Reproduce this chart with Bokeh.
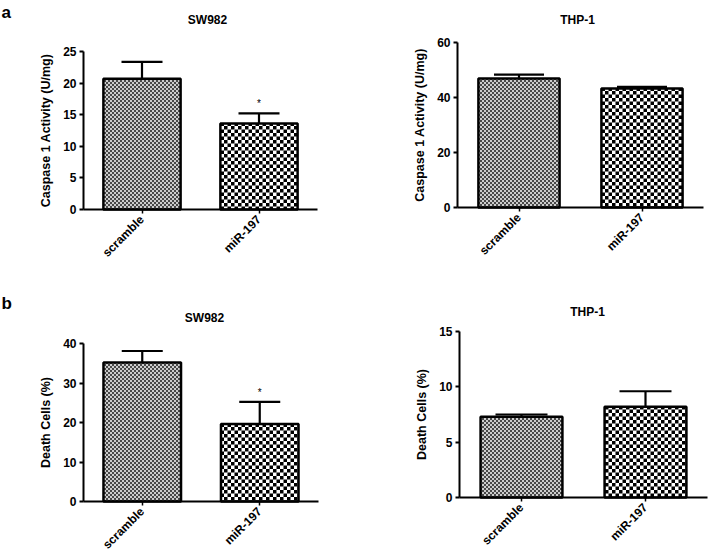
import json
import math
from bokeh.plotting import figure
from bokeh.models import (Range1d, FixedTicker, Whisker, TeeHead,
                          ColumnDataSource, CanvasTexture, CustomJSTickFormatter)
from bokeh.layouts import row, column
from bokeh.core.properties import value
from bokeh.embed import file_html
from bokeh.resources import INLINE

# ---------------- data ----------------
groups = ["scramble", "miR-197"]

caspase_sw982_mean = [20.7, 13.6]
caspase_sw982_err = [2.65, 1.6]
caspase_sw982_sig = ["", "*"]
caspase_sw982_ticks = [0, 5, 10, 15, 20, 25]

caspase_thp1_mean = [46.9, 43.3]
caspase_thp1_err = [1.4, 0.6]
caspase_thp1_sig = ["", ""]
caspase_thp1_ticks = [0, 20, 40, 60]

death_sw982_mean = [35.2, 19.6]
death_sw982_err = [2.9, 5.6]
death_sw982_sig = ["", "*"]
death_sw982_ticks = [0, 10, 20, 30, 40]

death_thp1_mean = [7.3, 8.2]
death_thp1_err = [0.2, 1.4]
death_thp1_sig = ["", ""]
death_thp1_ticks = [0, 5, 10, 15]

# ---------------- styles ----------------
FONT = "Liberation Sans"
FINE_CHECK = ("const c = ctx.canvas; c.width = 4; c.height = 4;"
              "ctx.fillStyle = '#cccccc'; ctx.fillRect(0, 0, 4, 4);"
              "ctx.fillStyle = '#484848'; ctx.fillRect(0, 0, 2, 2); ctx.fillRect(2, 2, 2, 2);")
COARSE_CHECK = ("const c = ctx.canvas; c.width = 7; c.height = 7;"
                "ctx.fillStyle = '#ffffff'; ctx.fillRect(0, 0, 7, 7);"
                "ctx.fillStyle = '#000000'; ctx.fillRect(0, 0, 3.5, 3.5); ctx.fillRect(3.5, 3.5, 3.5, 3.5);")
bar_textures = [FINE_CHECK, COARSE_CHECK]
bar_fill = ["#8a8a8a", "#808080"]
bar_scale = [4, 7]
BAR_WIDTH = 0.66


def panel(title, ylabel, means, errs, sig, ticks, geom, cap, title_px,
          letter=None, letter_px=(0, 0)):
    # geom: canvas width/height, pixel x of y-axis, px per category,
    #       pixel y of zero line, pixel y of top tick
    w, h, x0, unit, y0, ytop = geom
    ymax = ticks[-1]
    pxu = (y0 - ytop) / ymax

    def dx(px):
        return (px - x0) / unit

    def dy(py):
        return (y0 - py) / pxu

    p = figure(x_range=Range1d(dx(0), dx(w)), y_range=Range1d(dy(h), dy(0)),
               frame_width=w, frame_height=h, min_border=0,
               output_backend="svg", toolbar_location=None,
               background_fill_color="white", border_fill_color="white")
    p.outline_line_color = None
    p.xgrid.grid_line_color = None
    p.ygrid.grid_line_color = None

    xs = [i + 0.5 for i in range(len(groups))]
    for i in range(len(groups)):
        tex = CanvasTexture(code=bar_textures[i])
        src = ColumnDataSource(dict(x=[xs[i]], top=[means[i]]))
        p.vbar(x="x", top="top", width=BAR_WIDTH, bottom=0, source=src,
               fill_color=bar_fill[i], line_color="black", line_width=2.5,
               hatch_pattern=value("check"), hatch_extra={"check": tex},
               hatch_color="black", hatch_scale=bar_scale[i], hatch_weight=1)

    upper = [m + e for m, e in zip(means, errs)]
    esrc = ColumnDataSource(dict(x=xs, lower=means, upper=upper, sig=sig))
    wh = Whisker(base="x", lower="lower", upper="upper", source=esrc,
                 dimension="height", line_color="black", line_width=2.2,
                 upper_head=TeeHead(size=cap, line_width=2.2, line_color="black"),
                 lower_head=None)
    p.add_layout(wh)
    p.text(x="x", y="upper", text="sig", source=esrc, y_offset=-4,
           text_align="center", text_baseline="bottom",
           text_font=value(FONT), text_font_size="10px", text_color="black")

    # panel title
    p.text(x=[dx(title_px[0])], y=[dy(title_px[1])], text=[title],
           text_align="center", text_baseline="middle", text_font=value(FONT),
           text_font_size="12px", text_font_style="bold", text_color="black")
    if letter:
        p.text(x=[dx(letter_px[0])], y=[dy(letter_px[1])], text=[letter],
               text_align="left", text_baseline="alphabetic",
               text_font=value(FONT), text_font_size="17px",
               text_font_style="bold", text_color="black")

    ya = p.yaxis[0]
    ya.fixed_location = 0
    ya.bounds = (0, ymax)
    ya.ticker = FixedTicker(ticks=ticks)
    ya.axis_label = ylabel
    ya.axis_label_text_font = FONT
    ya.axis_label_text_font_size = "12.5px"
    ya.axis_label_text_font_style = "bold"
    ya.axis_label_text_color = "black"
    ya.axis_label_standoff = 7
    ya.major_label_text_font = FONT
    ya.major_label_text_font_size = "12px"
    ya.major_label_text_font_style = "bold"
    ya.major_label_text_color = "black"
    ya.major_label_standoff = 3
    ya.minor_tick_line_color = None
    ya.major_tick_in = 0
    ya.major_tick_out = 4
    ya.axis_line_width = 2
    ya.axis_line_color = "black"
    ya.major_tick_line_width = 2
    ya.major_tick_line_color = "black"

    xa = p.xaxis[0]
    xa.fixed_location = 0
    xa.bounds = (0, len(groups))
    xa.ticker = FixedTicker(ticks=xs, minor_ticks=[])
    xa.formatter = CustomJSTickFormatter(
        code="const names = %s; return names[Math.floor(tick)];" % json.dumps(groups))
    xa.major_label_orientation = math.pi / 4
    xa.major_label_text_font = FONT
    xa.major_label_text_font_size = "12px"
    xa.major_label_text_font_style = "bold"
    xa.major_label_text_color = "black"
    xa.major_label_standoff = 4
    xa.minor_tick_line_color = None
    xa.major_tick_in = 0
    xa.major_tick_out = 4
    xa.axis_line_width = 2
    xa.axis_line_color = "black"
    xa.major_tick_line_width = 1.5
    xa.major_tick_line_color = "black"
    return p


pa1 = panel("SW982", "Caspase 1 Activity (U/mg)", caspase_sw982_mean,
            caspase_sw982_err, caspase_sw982_sig, caspase_sw982_ticks,
            (360, 280, 83, 117, 209, 51), 41, (207, 19), "a", (1, 12))
pa2 = panel("THP-1", "Caspase 1 Activity (U/mg)", caspase_thp1_mean,
            caspase_thp1_err, caspase_thp1_sig, caspase_thp1_ticks,
            (348, 280, 97, 123, 207, 42), 50, (217, 19))
pb1 = panel("SW982", "Death Cells (%)", death_sw982_mean,
            death_sw982_err, death_sw982_sig, death_sw982_ticks,
            (360, 272, 83, 117.5, 221, 63), 41, (204, 37), "b", (1, 23))
pb2 = panel("THP-1", "Death Cells (%)", death_thp1_mean,
            death_thp1_err, death_thp1_sig, death_thp1_ticks,
            (348, 272, 99, 124, 217, 51), 52, (227, 31))

layout = column(row(pa1, pa2, spacing=0), row(pb1, pb2, spacing=0), spacing=0)

open("out.html", "w").write(file_html(layout, INLINE))
